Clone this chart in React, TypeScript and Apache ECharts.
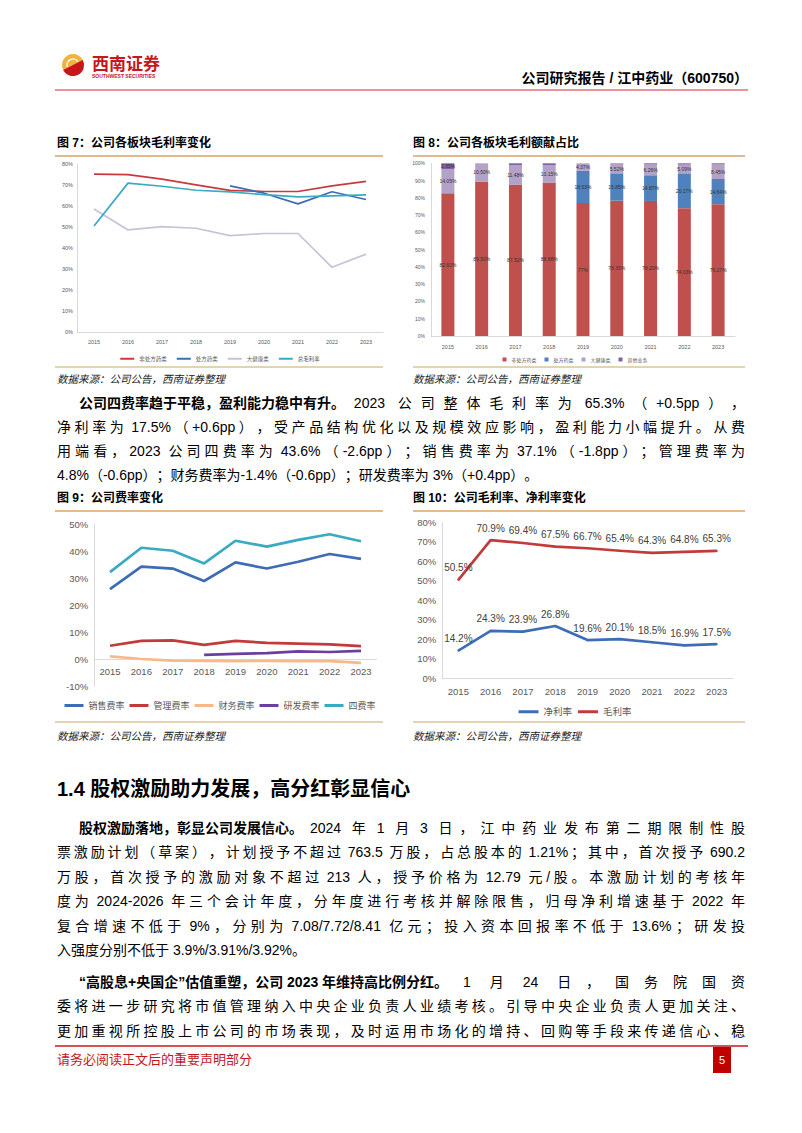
import React, { useEffect, useRef } from "react";
import * as echarts from "echarts";

const FONT = "'Liberation Sans','Noto Sans CJK SC',sans-serif";

// ---------- data ----------
const years = ["2015", "2016", "2017", "2018", "2019", "2020", "2021", "2022", "2023"];

// Fig 7: gross margin by segment (%)
const f7Names = ["非处方药类", "处方药类", "大健康类", "总毛利率"];
const f7Otc = [75.2, 74.9, 72.8, 70.1, 67.4, 66.9, 66.9, 69.6, 71.7];
const f7Rx = [null, null, null, null, 69.6, 66.1, 61.0, 66.8, 63.1];
const f7Health = [58.6, 48.6, 50.2, 49.4, 45.9, 46.9, 46.9, 30.8, 37.1];
const f7Total = [50.5, 70.9, 69.4, 67.5, 66.7, 65.4, 64.3, 64.8, 65.3];

// Fig 8: gross profit contribution (%)
const f8Names = ["非处方药类", "处方药类", "大健康类", "其他业务"];
const f8Otc = [82.6, 89.5, 87.52, 88.88, 77, 78.35, 78.2, 74.03, 76.27];
const f8Rx = [0, 0, 0, 0, 18.63, 15.85, 14.87, 20.17, 14.64];
const f8Health = [14.05, 10.5, 11.48, 10.15, 4.37, 5.52, 6.26, 5.09, 8.45];
const f8Other = [3.35, 0, 1.0, 0.97, 0, 0.28, 0.67, 0.71, 0.64];

// Fig 9: expense ratios (%)
const f9Names = ["销售费率", "管理费率", "财务费率", "研发费率", "四费率"];
const f9Sales = [25.9, 34.2, 33.5, 28.9, 35.8, 33.5, 36.0, 38.9, 37.1];
const f9Admin = [4.9, 6.7, 6.9, 5.2, 6.7, 6.0, 5.7, 5.4, 4.8];
const f9Fin = [1.0, 0.0, -0.6, -0.7, -0.8, -0.7, -0.8, -0.8, -1.4];
const f9Rd = [null, null, null, 1.5, 1.9, 2.2, 2.8, 2.6, 3.0];
const f9Four = [32.2, 41.2, 40.1, 35.4, 43.8, 41.6, 44.1, 46.2, 43.6];

// Fig 10: gross / net margin (%)
const f10Names = ["净利率", "毛利率"];
const f10Net = [14.2, 24.3, 23.9, 26.8, 19.6, 20.1, 18.5, 16.9, 17.5];
const f10Gross = [50.5, 70.9, 69.4, 67.5, 66.7, 65.4, 64.3, 64.8, 65.3];

// ---------- page texts ----------
const headerRight = "公司研究报告 / 江中药业（600750）";
const fig7Title = "图 7：公司各板块毛利率变化";
const fig8Title = "图 8：公司各板块毛利额献占比";
const fig9Title = "图 9：公司费率变化";
const fig10Title = "图 10：公司毛利率、净利率变化";
const sourceText = "数据来源：公司公告，西南证券整理";
const sectionTitle = "1.4 股权激励助力发展，高分红彰显信心";
const footerText = "请务必阅读正文后的重要声明部分";

const p1Bold = "公司四费率趋于平稳，盈利能力稳中有升。";
const p1Lines = [
  "2023 公司整体毛利率为 65.3%（+0.5pp），",
  "净利率为 17.5%（+0.6pp），受产品结构优化以及规模效应影响，盈利能力小幅提升。从费",
  "用端看，2023 公司四费率为 43.6%（-2.6pp）；销售费率为 37.1%（-1.8pp）；管理费率为",
  "4.8%（-0.6pp）；财务费率为-1.4%（-0.6pp）；研发费率为 3%（+0.4pp）。",
];
const p2Bold = "股权激励落地，彰显公司发展信心。";
const p2Lines = [
  "2024 年 1 月 3 日，江中药业发布第二期限制性股",
  "票激励计划（草案），计划授予不超过 763.5 万股，占总股本的 1.21%；其中，首次授予 690.2",
  "万股，首次授予的激励对象不超过 213 人，授予价格为 12.79 元/股。本激励计划的考核年",
  "度为 2024-2026 年三个会计年度，分年度进行考核并解除限售，归母净利增速基于 2022 年",
  "复合增速不低于 9%，分别为 7.08/7.72/8.41 亿元；投入资本回报率不低于 13.6%；研发投",
  "入强度分别不低于 3.9%/3.91%/3.92%。",
];
const p3Bold = "“高股息+央国企”估值重塑，公司 2023 年维持高比例分红。";
const p3Lines = [
  "1 月 24 日，国务院国资",
  "委将进一步研究将市值管理纳入中央企业负责人业绩考核。引导中央企业负责人更加关注、",
  "更加重视所控股上市公司的市场表现，及时运用市场化的增持、回购等手段来传递信心、稳",
];

function txt(x: number, y: number, text: string, size: number, extra: any = {}) {
  return {
    type: "text",
    x,
    y,
    style: {
      text,
      fontSize: size,
      fontFamily: FONT,
      fill: "#000",
      textAlign: extra.align || "left",
      align: extra.align || "left",
      textVerticalAlign: "middle",
      verticalAlign: "middle",
      ...extra,
    },
  };
}

function hline(x1: number, x2: number, y: number, color: string, w: number) {
  return { type: "line", shape: { x1, y1: y, x2, y2: y }, style: { stroke: color, lineWidth: w } };
}

// ---------- justified paragraph layout ----------
let ctx: CanvasRenderingContext2D | null = null;
function measure(t: string, size: number, bold: boolean) {
  if (!ctx) ctx = document.createElement("canvas").getContext("2d");
  if (!ctx) return t.length * size;
  ctx.font = `${bold ? "bold " : ""}${size}px ${FONT}`;
  return ctx.measureText(t).width;
}

function tokenize(s: string) {
  const toks: string[] = [];
  let cur = "";
  for (const ch of s) {
    if (ch === " ") {
      if (cur) toks.push(cur);
      cur = "";
      toks.push(" ");
    } else if (ch.charCodeAt(0) < 0x2000) {
      cur += ch;
    } else {
      if (cur) toks.push(cur);
      cur = "";
      toks.push(ch);
    }
  }
  if (cur) toks.push(cur);
  return toks;
}

const FS = 14;
function lineEls(y: number, x0: number, x1: number, bold: string | null, line: string, justify: boolean) {
  const items: { t: string; w: number; bold: boolean; space: boolean }[] = [];
  if (bold) items.push({ t: bold, w: measure(bold, FS, true), bold: true, space: false });
  tokenize(line).forEach((t) =>
    items.push({ t, w: t === " " ? FS * 0.28 : measure(t, FS, false), bold: false, space: t === " " })
  );
  const natural = items.reduce((a, b) => a + b.w, 0);
  const words = items.filter((i) => !i.space).length;
  const extra = justify && words > 1 ? Math.max(0, (x1 - x0 - natural) / (words - 1)) : 0;
  const els: any[] = [];
  let x = x0;
  items.forEach((it) => {
    if (it.space) {
      x += it.w;
      return;
    }
    els.push(txt(x, y, it.t, FS, { fontWeight: it.bold ? "bold" : "normal" }));
    x += it.w + extra;
  });
  return els;
}

function para(
  x0: number,
  xIndent: number,
  xEnd: number,
  y0: number,
  gap: number,
  bold: string,
  lines: string[],
  justifyLast = false
) {
  const els: any[] = [];
  lines.forEach((l, i) => {
    const last = i === lines.length - 1;
    els.push(
      ...lineEls(y0 + i * gap, i === 0 ? xIndent : x0, xEnd, i === 0 ? bold : null, l, !last || justifyLast)
    );
  });
  return els;
}

function pageOption() {
  const els: any[] = [];
  // logo
  els.push({ type: "circle", shape: { cx: 73, cy: 65, r: 11 }, style: { fill: "#F2B33D" } });
  els.push({
    type: "sector",
    shape: { cx: 73, cy: 65, r: 11, r0: 0, startAngle: -Math.PI * 0.15, endAngle: Math.PI * 0.85 },
    style: { fill: "#C8161D" },
  });
  els.push({
    type: "arc",
    shape: { cx: 73, cy: 65, r: 6, startAngle: Math.PI * 0.9, endAngle: Math.PI * 1.8 },
    style: { stroke: "#fff", lineWidth: 1.5, fill: "none" },
  });
  els.push(txt(92, 64, "西南证券", 17, { fill: "#C8161D", fontWeight: "bold" }));
  els.push(txt(92, 76, "SOUTHWEST SECURITIES", 5, { fill: "#C8161D", fontWeight: "bold" }));
  els.push(txt(748, 78, headerRight, 14, { align: "right", fontWeight: "bold" }));
  els.push(hline(55, 748, 90, "#E0707A", 1.5));

  // figure titles
  els.push(txt(57, 143, fig7Title, 12, { fontWeight: "bold" }));
  els.push(txt(413, 143, fig8Title, 12, { fontWeight: "bold" }));
  els.push(hline(55, 383, 156, "#D9A66A", 1.5));
  els.push(hline(413, 745, 156, "#D9A66A", 1.5));
  els.push(hline(55, 383, 367, "#D8C49A", 1.5));
  els.push(hline(413, 745, 367, "#D8C49A", 1.5));
  els.push(txt(57, 379, sourceText, 10.5, { fontStyle: "italic", fill: "#222" }));
  els.push(txt(413, 379, sourceText, 10.5, { fontStyle: "italic", fill: "#222" }));

  els.push(...para(57, 79, 745, 403, 24, p1Bold, p1Lines));

  els.push(txt(57, 498, fig9Title, 12, { fontWeight: "bold" }));
  els.push(txt(413, 498, fig10Title, 12, { fontWeight: "bold" }));
  els.push(hline(55, 383, 511, "#D9A66A", 1.5));
  els.push(hline(413, 745, 511, "#D9A66A", 1.5));
  els.push(hline(55, 383, 722, "#D8C49A", 1.5));
  els.push(hline(413, 745, 722, "#D8C49A", 1.5));
  els.push(txt(57, 736, sourceText, 10.5, { fontStyle: "italic", fill: "#222" }));
  els.push(txt(413, 736, sourceText, 10.5, { fontStyle: "italic", fill: "#222" }));

  els.push(txt(57, 789, sectionTitle, 20, { fontWeight: "bold" }));
  els.push(...para(57, 79, 745, 828, 24.4, p2Bold, p2Lines));
  els.push(...para(57, 79, 745, 982, 24.4, p3Bold, p3Lines, true));

  // footer
  els.push(hline(55, 748, 1046, "#C8161D", 1.5));
  els.push(txt(57, 1059, footerText, 13, { fill: "#C8161D" }));
  els.push({ type: "rect", shape: { x: 713, y: 1047, width: 18, height: 26 }, style: { fill: "#C00000" } });
  els.push(txt(722, 1060, "5", 11, { fill: "#fff", align: "center" }));

  return { animation: false, graphic: { elements: els } };
}

const axisGray = "#D9D9D9";
const labelGray = "#595959";

function fig7Option() {
  const mk = (name: string, data: any[], color: string, w = 1.7) => ({
    name,
    type: "line",
    data,
    showSymbol: false,
    symbol: "none",
    lineStyle: { color, width: w },
    itemStyle: { color },
    connectNulls: false,
  });
  return {
    animation: false,
    grid: { left: 22, top: 6, width: 306, height: 168 },
    legend: {
      data: f7Names,
      top: 193,
      left: "center",
      icon: "rect",
      itemWidth: 14,
      itemHeight: 2,
      itemGap: 10,
      textStyle: { fontSize: 5.5, color: labelGray, fontFamily: FONT },
    },
    xAxis: {
      type: "category",
      data: years,
      axisLine: { lineStyle: { color: axisGray } },
      axisTick: { show: false },
      axisLabel: { fontSize: 5.5, color: labelGray, margin: 7, fontFamily: FONT },
    },
    yAxis: {
      type: "value",
      min: 0,
      max: 80,
      interval: 10,
      axisLine: { show: true, lineStyle: { color: axisGray } },
      splitLine: { show: false },
      axisLabel: { fontSize: 5.5, color: labelGray, margin: 4, formatter: "{value}%", fontFamily: FONT },
    },
    series: [
      mk(f7Names[0], f7Otc, "#C9393E"),
      mk(f7Names[1], f7Rx, "#3D6DB5"),
      mk(f7Names[2], f7Health, "#C7C2D8"),
      mk(f7Names[3], f7Total, "#3AAAC2"),
    ],
  };
}

function fig8Option() {
  const fmt = (p: any) => {
    const v = p.value as number;
    return Number.isInteger(v) ? `${v}%` : `${v.toFixed(2)}%`;
  };
  const mk = (name: string, data: number[], color: string, minShow: number) => ({
    name,
    type: "bar",
    stack: "s",
    data,
    barWidth: 13,
    itemStyle: { color },
    label: {
      show: true,
      position: "inside",
      fontSize: 5,
      color: "#333",
      fontFamily: FONT,
      formatter: (p: any) => (p.value >= minShow ? fmt(p) : ""),
    },
  });
  return {
    animation: false,
    grid: { left: 26, top: 5.3, width: 304, height: 172.7 },
    legend: {
      data: f8Names,
      top: 194,
      left: "center",
      icon: "rect",
      itemWidth: 4,
      itemHeight: 4,
      itemGap: 8,
      textStyle: { fontSize: 5, color: labelGray, fontFamily: FONT },
    },
    xAxis: {
      type: "category",
      data: years,
      axisLine: { lineStyle: { color: axisGray } },
      axisTick: { show: false },
      axisLabel: { fontSize: 5.5, color: labelGray, margin: 8, fontFamily: FONT },
    },
    yAxis: {
      type: "value",
      min: 0,
      max: 100,
      interval: 10,
      axisLine: { show: true, lineStyle: { color: axisGray } },
      splitLine: { show: false },
      axisLabel: { fontSize: 5, color: labelGray, margin: 6, formatter: "{value}%", fontFamily: FONT },
    },
    series: [
      mk(f8Names[0], f8Otc, "#C0504D", 2),
      mk(f8Names[1], f8Rx, "#4F81BD", 2),
      mk(f8Names[2], f8Health, "#B3A2C7", 2),
      mk(f8Names[3], f8Other, "#7F64A2", 3),
    ],
  };
}

function fig9Option() {
  const mk = (name: string, data: any[], color: string) => ({
    name,
    type: "line",
    data,
    showSymbol: false,
    symbol: "none",
    lineStyle: { color, width: 2.7 },
    itemStyle: { color },
  });
  return {
    animation: false,
    grid: { left: 39.3, top: 10, width: 282.4, height: 162 },
    legend: {
      data: f9Names,
      top: 187,
      left: "center",
      padding: 0,
      icon: "rect",
      itemWidth: 19,
      itemHeight: 3,
      itemGap: 5,
      textStyle: { fontSize: 9, color: labelGray, fontFamily: FONT },
    },
    xAxis: {
      type: "category",
      data: years,
      position: "bottom",
      offset: -27,
      axisLine: { onZero: false, lineStyle: { color: axisGray } },
      axisTick: { show: false },
      axisLabel: { fontSize: 9.5, color: labelGray, margin: 8, fontFamily: FONT },
    },
    yAxis: {
      type: "value",
      min: -10,
      max: 50,
      interval: 10,
      axisLine: { show: true, lineStyle: { color: axisGray } },
      splitLine: { show: false },
      axisLabel: { fontSize: 9.5, color: labelGray, margin: 6, formatter: "{value}%", fontFamily: FONT },
    },
    series: [
      mk(f9Names[0], f9Sales, "#3E6DB5"),
      mk(f9Names[1], f9Admin, "#C23B3B"),
      mk(f9Names[2], f9Fin, "#F6B98C"),
      mk(f9Names[3], f9Rd, "#6B3FA0"),
      mk(f9Names[4], f9Four, "#3AAAC2"),
    ],
  };
}

function fig10Option() {
  const mk = (name: string, data: number[], color: string) => ({
    name,
    type: "line",
    data,
    showSymbol: true,
    symbol: "circle",
    symbolSize: 2,
    lineStyle: { color, width: 2.7 },
    itemStyle: { color },
    label: {
      show: true,
      position: "top",
      distance: 6,
      fontSize: 10,
      color: "#404040",
      fontFamily: FONT,
      formatter: (p: any) => `${(p.value as number).toFixed(1)}%`,
    },
  });
  return {
    animation: false,
    grid: { left: 37.2, top: 8.3, width: 290.6, height: 156 },
    legend: {
      data: f10Names,
      top: 188,
      left: "center",
      icon: "rect",
      itemWidth: 20,
      itemHeight: 3,
      itemGap: 6,
      textStyle: { fontSize: 9.5, color: labelGray, fontFamily: FONT },
    },
    xAxis: {
      type: "category",
      data: years,
      axisLine: { lineStyle: { color: axisGray } },
      axisTick: { show: false },
      axisLabel: { fontSize: 9.5, color: labelGray, margin: 8, fontFamily: FONT },
    },
    yAxis: {
      type: "value",
      min: 0,
      max: 80,
      interval: 10,
      axisLine: { show: true, lineStyle: { color: axisGray } },
      splitLine: { show: false },
      axisLabel: { fontSize: 9.5, color: labelGray, margin: 6, formatter: "{value}%", fontFamily: FONT },
    },
    series: [mk(f10Names[0], f10Net, "#3E6DB5"), mk(f10Names[1], f10Gross, "#C23B3B")],
  };
}

export default function App() {
  const pageRef = useRef<HTMLDivElement>(null);
  const r7 = useRef<HTMLDivElement>(null);
  const r8 = useRef<HTMLDivElement>(null);
  const r9 = useRef<HTMLDivElement>(null);
  const r10 = useRef<HTMLDivElement>(null);

  useEffect(() => {
    const charts: any[] = [];
    const mk = (el: HTMLDivElement | null, opt: any) => {
      if (!el) return;
      const c = echarts.init(el, null, { renderer: "svg" });
      c.setOption(opt);
      charts.push(c);
    };
    mk(pageRef.current, pageOption());
    mk(r7.current, fig7Option());
    mk(r8.current, fig8Option());
    mk(r9.current, fig9Option());
    mk(r10.current, fig10Option());
    return () => charts.forEach((c) => c.dispose());
  }, []);

  const abs = (left: number, top: number, width: number, height: number): React.CSSProperties => ({
    position: "absolute",
    left,
    top,
    width,
    height,
  });

  return (
    <div style={{ ...abs(0, 0, 802, 1133), background: "#fff", overflow: "hidden" }}>
      <div ref={pageRef} style={abs(0, 0, 802, 1133)} />
      <div ref={r7} style={abs(55, 158, 330, 208)} />
      <div ref={r8} style={abs(405, 158, 340, 208)} />
      <div ref={r9} style={abs(55, 514, 330, 204)} />
      <div ref={r10} style={abs(405, 514, 340, 204)} />
    </div>
  );
}
